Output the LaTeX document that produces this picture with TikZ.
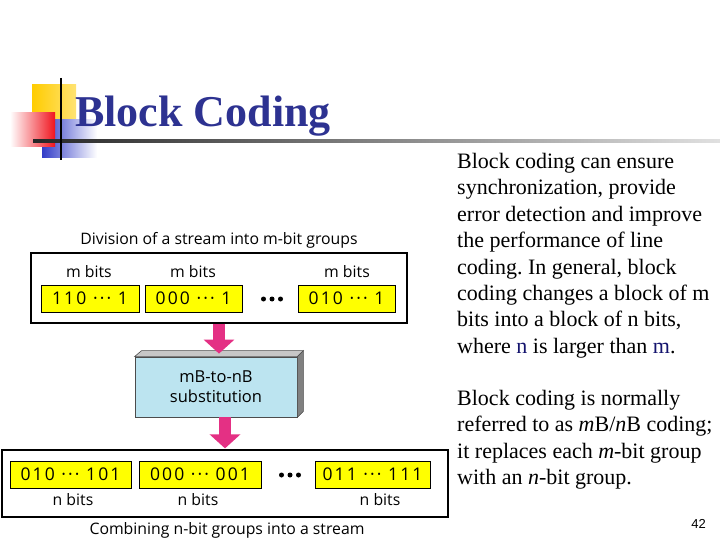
\documentclass[tikz,border=0pt]{standalone}
\usepackage{fontspec}
\setmainfont{Liberation Serif}
\newfontfamily\dsans{Open Sans}
\newfontfamily\dsansw[LetterSpace=12]{Open Sans}
\newfontfamily\lsans{Liberation Sans}
\usetikzlibrary{arrows.meta,calc}
\frenchspacing
\definecolor{titleblue}{RGB}{45,50,145}
\definecolor{decoyellow}{RGB}{255,204,0}
\definecolor{decoblue}{RGB}{50,60,200}
\definecolor{decored}{RGB}{240,20,30}
\definecolor{arrowpink}{RGB}{228,48,132}
\definecolor{subblue}{RGB}{188,228,240}
\definecolor{bityellow}{RGB}{255,255,0}
\definecolor{navytext}{RGB}{20,20,110}
\tikzset{
  outerbox/.style={draw=black, line width=1.2pt, inner sep=0pt},
  bitbox/.style={draw=black, line width=0.9pt, fill=bityellow, inner sep=0pt,
    minimum height=27pt, font=\dsansw\fontsize{17.5}{20}\selectfont},
  lbl/.style={font=\dsans\fontsize{15.8}{18}\selectfont, inner sep=0pt},
  bigdot/.style={circle, fill=black, inner sep=0pt, minimum size=5pt},
  bodyline/.style={anchor=base west, inner sep=0pt, font=\fontsize{22}{26}\selectfont},
  pinkarrow/.style={draw=arrowpink, line width=12pt, -{Triangle[width=30pt,length=14pt]}},
}
\begin{document}
\begin{tikzpicture}[x=1pt,y=-1pt]
\useasboundingbox (0,0) rectangle (720,540);
\fill[white] (0,0) rectangle (720,540);
% decoration
\shade[left color=decoyellow, right color=decoyellow!55] (32,85) rectangle (76,121);
\shade[left color=decoblue, middle color=decoblue, right color=white] (42,120) rectangle (97,158);
\shade[left color=white, right color=decored] (10,113) rectangle (55,147);
\shade[left color=black!85, right color=black!12] (33,139.5) rectangle (720,142.5);
\draw[black, line width=2.5pt] (61,78) -- (61,160);
% title
\node[anchor=base west, inner sep=0pt, text=titleblue, font=\bfseries\fontsize{44}{50}\selectfont] (title) at (75,127) {Block Coding};
% right text
\foreach \t [count=\i] in {{Block coding can ensure},{synchronization, provide},{error detection and improve},{the performance of line},{coding. In general, block},{coding changes a block of m},{bits into a block of n bits,},{where \textcolor{navytext}{n} is larger than \textcolor{navytext}{m}.}}
  \node[bodyline] (pa\i) at (457,{168.5+26.4*(\i-1)}) {\t};
\foreach \t [count=\i] in {{Block coding is normally},{referred to as \textit{m}B/\textit{n}B coding;},{it replaces each \textit{m}-bit group},{with an \textit{n}-bit group.}}
  \node[bodyline] (pb\i) at (457,{405.5+26.4*(\i-1)}) {\t};
\node[anchor=base east, inner sep=0pt, font=\lsans\fontsize{13}{15}\selectfont] (pagenum) at (706,528) {42};
% diagram top
\node[lbl] (capA) at (219,240) {Division of a stream into m-bit groups};
\node[outerbox, minimum width=376pt, minimum height=70pt] (outA) at (219,288) {};
\node[bitbox, minimum width=98pt] (a1) at (90,298.5) {110 ··· 1};
\node[bitbox, minimum width=97pt] (a2) at (193.5,298.5) {000 ··· 1};
\node[bitbox, minimum width=97pt] (a3) at (346.5,298.5) {010 ··· 1};
\foreach \k in {-1,0,1} \node[bigdot] (ad\k) at ({272+8.5*\k},299) {};
\node[lbl] (ma1) at (89,272) {m bits};
\node[lbl] (ma2) at (193,272) {m bits};
\node[lbl] (ma3) at (347,272) {m bits};
% substitution box
\node[draw=black!70, line width=0.8pt, fill=subblue, minimum width=162pt, minimum height=60pt, inner sep=0pt, align=center,
  font=\dsans\fontsize{16.5}{20}\selectfont] (sub) at (216,387) {mB-to-nB\\substitution};
\filldraw[draw=black!70, fill=black!22, line width=0.6pt] (sub.north west) -- ++(7,-6) -- ([xshift=6pt,yshift=6pt]sub.north east) -- (sub.north east) -- cycle;
\filldraw[draw=black!70, fill=black!50, line width=0.6pt] (sub.north east) -- ++(6,-6) -- ([xshift=6pt,yshift=6pt]sub.south east) -- (sub.south east) -- cycle;
% bottom
\node[outerbox, minimum width=446pt, minimum height=67pt] (outB) at (225,483.5) {};
\node[bitbox, minimum width=121pt] (b1) at (70.5,474.5) {010 ··· 101};
\node[bitbox, minimum width=122pt] (b2) at (200,474.5) {000 ··· 001};
\node[bitbox, minimum width=115pt] (b3) at (372.5,474.5) {011 ··· 111};
\foreach \k in {-1,0,1} \node[bigdot] (bd\k) at ({290+8.5*\k},475) {};
\node[lbl] (nb1) at (73,500) {n bits};
\node[lbl] (nb2) at (198,500) {n bits};
\node[lbl] (nb3) at (380,500) {n bits};
\node[lbl] (capB) at (227,530) {Combining n-bit groups into a stream};
% arrows
\draw[pinkarrow] (outA.south) -- ([yshift=3pt]outA.south |- sub.north);
\draw[pinkarrow] (outB.north |- sub.south) -- ([yshift=1pt]outB.north);
\end{tikzpicture}
\end{document}
